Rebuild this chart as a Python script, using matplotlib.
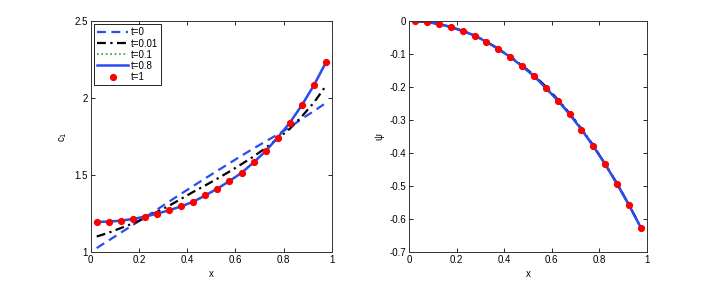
import matplotlib
matplotlib.use('Agg')
import matplotlib.pyplot as plt
from matplotlib.ticker import FormatStrFormatter

plt.rcParams['font.family'] = ['Liberation Sans', 'DejaVu Sans']
plt.rcParams['font.size'] = 7

# ================= DATA =================
x = [0.025, 0.075, 0.125, 0.175, 0.225, 0.275, 0.325, 0.375, 0.425, 0.475,
     0.525, 0.575, 0.625, 0.675, 0.725, 0.775, 0.825, 0.875, 0.925, 0.975]

c1_t0 = [1.025, 1.075, 1.125, 1.175, 1.225, 1.275, 1.327, 1.378, 1.428, 1.478,
         1.527, 1.576, 1.625, 1.672, 1.718, 1.763, 1.810, 1.865, 1.915, 1.968]
c1_t001 = [1.100, 1.125, 1.155, 1.185, 1.220, 1.260, 1.300, 1.345, 1.390, 1.432,
           1.476, 1.522, 1.570, 1.620, 1.675, 1.735, 1.800, 1.880, 1.970, 2.080]
c1_t01 = [1.193, 1.196, 1.202, 1.213, 1.228, 1.248, 1.270, 1.296, 1.326, 1.366,
          1.410, 1.459, 1.513, 1.580, 1.654, 1.742, 1.838, 1.951, 2.081, 2.230]
c1_t08 = [1.195, 1.197, 1.203, 1.214, 1.229, 1.249, 1.270, 1.296, 1.326, 1.367,
          1.411, 1.460, 1.514, 1.581, 1.655, 1.743, 1.839, 1.953, 2.083, 2.232]
c1_t1 = [1.195, 1.197, 1.203, 1.214, 1.229, 1.249, 1.270, 1.296, 1.326, 1.367,
         1.411, 1.460, 1.514, 1.581, 1.655, 1.743, 1.839, 1.953, 2.083, 2.232]

psi_t0 = [0.000, -0.003, -0.009, -0.018, -0.030, -0.044, -0.063, -0.085, -0.109, -0.136,
          -0.165, -0.200, -0.239, -0.281, -0.327, -0.378, -0.434, -0.494, -0.558, -0.627]
psi_t001 = [0.000, -0.003, -0.009, -0.018, -0.030, -0.044, -0.062, -0.084, -0.108, -0.135,
            -0.164, -0.199, -0.238, -0.280, -0.327, -0.378, -0.434, -0.494, -0.558, -0.627]
psi_t01 = [0.000, -0.003, -0.009, -0.018, -0.030, -0.044, -0.063, -0.085, -0.109, -0.137,
           -0.167, -0.203, -0.241, -0.283, -0.329, -0.380, -0.435, -0.494, -0.558, -0.627]
psi_t08 = psi_t01
psi_t1 = [0.000, -0.003, -0.009, -0.018, -0.030, -0.044, -0.063, -0.085, -0.109, -0.137,
          -0.167, -0.203, -0.241, -0.283, -0.329, -0.380, -0.435, -0.494, -0.558, -0.627]

labels = ['t=0', 't=0.01', 't=0.1', 't=0.8', 't=1']
blue = '#2b4cf0'

# ================= PLOT =================
fig = plt.figure(figsize=(7.14, 2.84), dpi=100)
ax1 = fig.add_axes([0.127, 0.113, 0.338, 0.813])
ax2 = fig.add_axes([0.573, 0.113, 0.333, 0.813])


def draw(ax, y0, y1, y2, y3, y4):
    ax.plot(x, y0, '--', color=blue, lw=1.6, dashes=(4, 2.5), label=labels[0])
    ax.plot(x, y1, '-.', color='black', lw=1.6, dashes=(4, 2, 1, 2), label=labels[1])
    ax.plot(x, y2, ':', color='#2ca02c', lw=1.2, label=labels[2])
    ax.plot(x, y3, '-', color=blue, lw=1.8, label=labels[3])
    ax.plot(x, y4, 'o', color='red', ms=4.2, mec='red', label=labels[4])


draw(ax1, c1_t0, c1_t001, c1_t01, c1_t08, c1_t1)
draw(ax2, psi_t0, psi_t001, psi_t01, psi_t08, psi_t1)

# ================= AXIS =================
ax1.set_xlim(0, 1)
ax1.set_ylim(1, 2.5)
ax1.set_yticks([1, 1.5, 2, 2.5])
ax1.set_ylabel('c$_1$', labelpad=4)

ax2.set_xlim(0, 1)
ax2.set_ylim(-0.7, 0)
ax2.set_yticks([0, -0.1, -0.2, -0.3, -0.4, -0.5, -0.6, -0.7])
ax2.set_ylabel('\u03c8', labelpad=4)

for ax in (ax1, ax2):
    ax.set_xticks([0, 0.2, 0.4, 0.6, 0.8, 1])
    ax.xaxis.set_major_formatter(FormatStrFormatter('%g'))
    ax.yaxis.set_major_formatter(FormatStrFormatter('%g'))
    ax.set_xlabel('x', labelpad=3)
    ax.tick_params(direction='in', top=True, right=True, length=3, width=0.6,
                   labelsize=7, pad=2)
    for s in ax.spines.values():
        s.set_linewidth(0.7)
        s.set_color('#333333')

leg = ax1.legend(loc='upper left', fontsize=7, handlelength=3.2, borderpad=0.3,
                 labelspacing=0.12, handletextpad=0.3, fancybox=False,
                 framealpha=1, borderaxespad=0.35)
leg.get_frame().set_edgecolor('black')
leg.get_frame().set_linewidth(0.6)

fig.savefig('out.png', dpi=100)
